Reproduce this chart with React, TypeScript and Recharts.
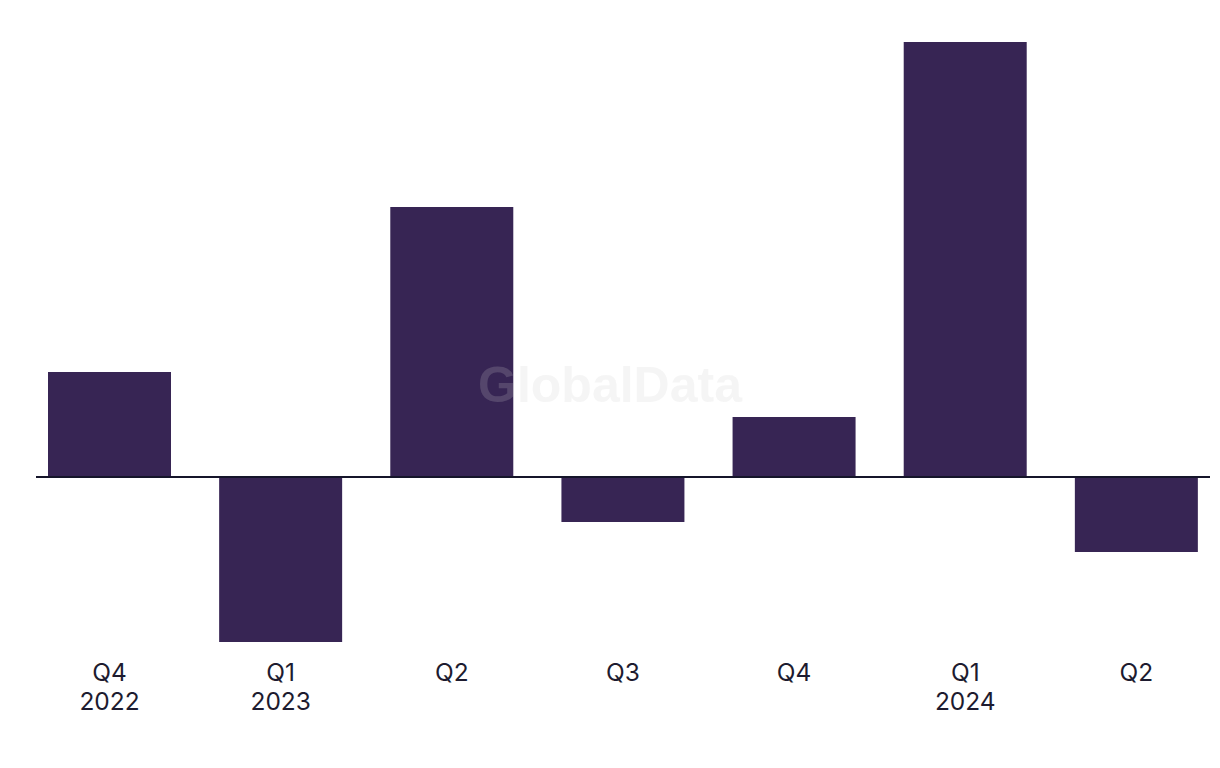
import React from "react";
import { BarChart, Bar, XAxis, YAxis, ReferenceLine } from "recharts";

const quarters = ["Q4", "Q1", "Q2", "Q3", "Q4", "Q1", "Q2"];
const years = ["2022", "2023", "", "", "", "2024", ""];
const values = [7, -11, 18, -3, 4, 29, -5];

const data = quarters.map((q, i) => ({ q, year: years[i], value: values[i] }));

const TEXT = "#1d1b2f";

const Tick = (props: any) => {
  const { x, y, payload } = props;
  const d = data[payload.index];
  return (
    <g>
      <text x={x} y={y + 16} textAnchor="middle" fontFamily="Inter" fontSize={24.5} fill={TEXT}>
        {d.q}
      </text>
      {d.year ? (
        <text x={x} y={y + 45} textAnchor="middle" fontFamily="Inter" fontSize={24.5} fill={TEXT}>
          {d.year}
        </text>
      ) : null}
    </g>
  );
};

export default function App() {
  return (
    <div style={{ position: "absolute", left: 0, top: 0, width: 1220, height: 768, overflow: "hidden", background: "#fff" }}>
      <BarChart
        width={1220}
        height={768}
        data={data}
        margin={{ top: 27, right: 10, bottom: 0, left: 36 }}
        barSize={123}
      >
        <XAxis
          dataKey="q"
          axisLine={false}
          tickLine={false}
          interval={0}
          height={111}
          padding={{ left: -12, right: -12 }}
          tick={<Tick />}
        />
        <YAxis hide domain={[-12, 30]} />
        <Bar dataKey="value" fill="#372554" isAnimationActive={false} />
        <ReferenceLine y={0} stroke="#15152a" strokeWidth={2} />
      </BarChart>
      <svg
        width={1220}
        height={768}
        style={{ position: "absolute", left: 0, top: 0, pointerEvents: "none" }}
      >
        <text
          x={610}
          y={402}
          textAnchor="middle"
          fontFamily="Liberation Sans"
          fontWeight="bold"
          fontSize={50}
          fill="#cdcdcd"
          fillOpacity={0.2}
        >
          GlobalData
        </text>
      </svg>
    </div>
  );
}
